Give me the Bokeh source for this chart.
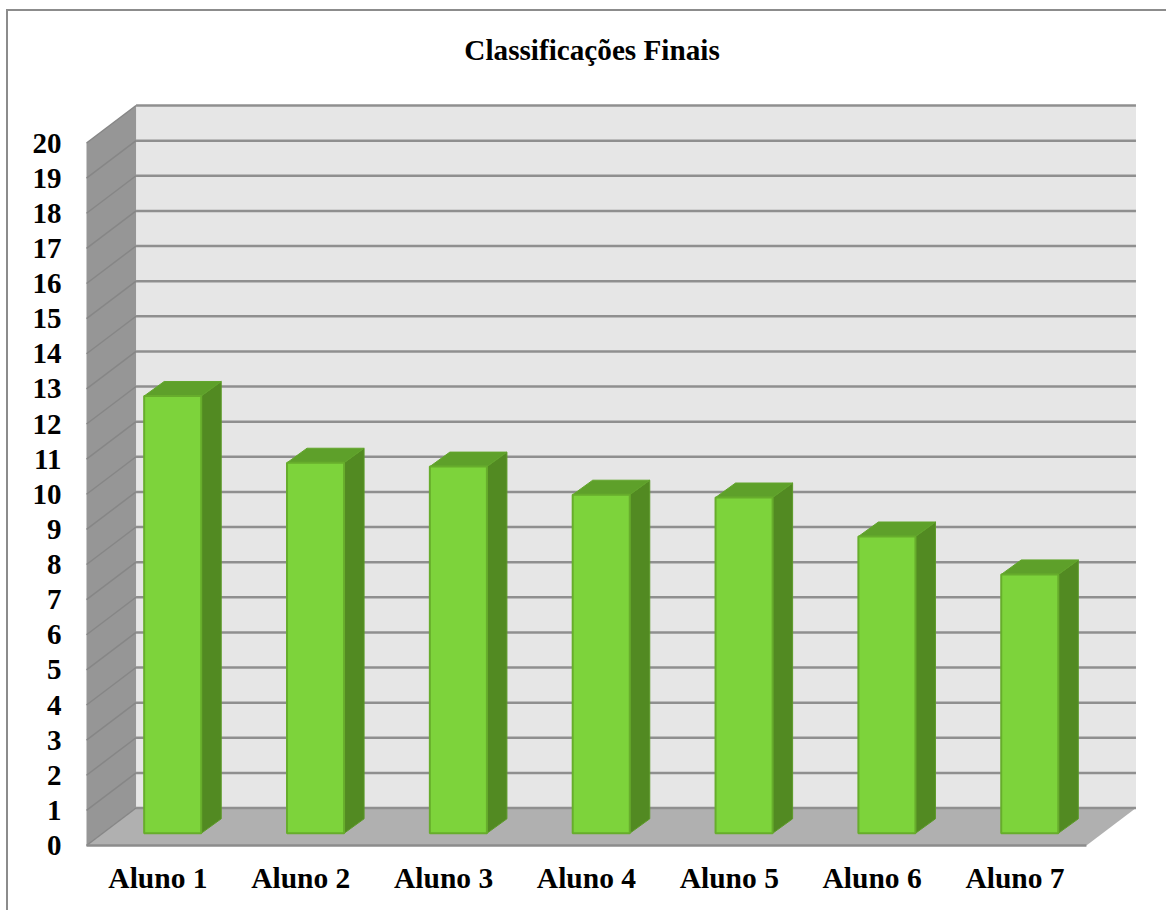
from bokeh.plotting import figure
from bokeh.models import FixedTicker, Label
from bokeh.embed import file_html
from bokeh.resources import INLINE

categories = ["Aluno 1", "Aluno 2", "Aluno 3", "Aluno 4", "Aluno 5", "Aluno 6", "Aluno 7"]
values = [12.45, 10.55, 10.44, 9.64, 9.56, 8.45, 7.37]
y_ticks = list(range(0, 21))
title_text = "Classificações Finais"

FONT = "Liberation Serif"
SLOT_PX = 142.71
UNIT_PX = 35.125
DX = 49.5 / SLOT_PX      # wall depth in x units
DY = 37.5 / UNIT_PX      # wall depth in y units
N = len(categories)
YMAX = y_ticks[-1]

W, H = 1160, 901
p = figure(width=W, height=H, output_backend="svg", toolbar_location=None,
           x_range=(-1 / SLOT_PX, 1051 / SLOT_PX), y_range=(-2 / UNIT_PX, 834 / UNIT_PX),
           min_border_left=77, min_border_right=30, min_border_top=0, min_border_bottom=65,
           background_fill_color="white", border_fill_color="white", outline_line_color=None,
           margin=(9, 0, 0, 6),
           styles={"border-left": "2px solid #8c8c8c", "border-top": "2px solid #8c8c8c"})
p.grid.visible = False

# chart title, in the free space above the walls
p.add_layout(Label(x=377.5 / SLOT_PX, y=796 / UNIT_PX, text=title_text,
                   text_align="left", text_baseline="middle",
                   text_font=FONT, text_font_size="29.2px", text_font_style="bold",
                   text_color="black"))

WALL_LINE = "#8f8f8f"
# back wall
p.patch([DX, N + DX, N + DX, DX], [DY, DY, YMAX + DY, YMAX + DY],
        fill_color="#e6e6e6", line_color=None)
# side wall
p.patch([0, DX, DX, 0], [0, DY, YMAX + DY, YMAX],
        fill_color="#969696", line_color=None)
# floor
p.patch([0, N, N + DX, DX], [0, 0, DY, DY],
        fill_color="#b0b0b0", line_color=None)
# grid lines on back wall and side wall
p.multi_line([[DX, N + DX] for _ in y_ticks], [[v + DY, v + DY] for v in y_ticks],
             line_color=WALL_LINE, line_width=2.5)
p.multi_line([[0, DX] for _ in y_ticks], [[v, v + DY] for v in y_ticks],
             line_color="#868686", line_width=1.5)
# floor front edge
p.line([0, N], [0, 0], line_color="#8c8c8c", line_width=2.5)

# bars
BAR_W = 57 / SLOT_PX
BAR_DX = 20 / SLOT_PX
BAR_DY = 14.5 / UNIT_PX
X_IN = 14.75 / SLOT_PX
Y_IN = 12.2 / UNIT_PX
X_PAD = (1 - BAR_W) / 2

for i, v in enumerate(values):
    l = i + X_PAD + X_IN
    r = l + BAR_W
    b = Y_IN
    t = Y_IN + v
    # side
    p.patch([r, r + BAR_DX, r + BAR_DX, r], [b, b + BAR_DY, t + BAR_DY, t],
            fill_color="#528a22", line_color="#5c9a28", line_width=1)
    # top
    p.patch([l, r, r + BAR_DX, l + BAR_DX], [t, t, t + BAR_DY, t + BAR_DY],
            fill_color="#5ea02a", line_color="#62a52c", line_width=1)
    # front
    p.quad(left=l, right=r, bottom=b, top=t,
           fill_color="#7dd33b", line_color="#67ad2c", line_width=2)

# axes
ya = p.yaxis[0]
ya.ticker = FixedTicker(ticks=y_ticks)
ya.axis_line_color = None
ya.major_tick_line_color = None
ya.minor_tick_line_color = None
ya.major_label_standoff = 18
ya.major_label_text_font = FONT
ya.major_label_text_font_style = "bold"
ya.major_label_text_font_size = "29px"
ya.major_label_text_color = "black"

xa = p.xaxis[0]
xa.ticker = FixedTicker(ticks=[i + 0.5 for i in range(N)])
xa.major_label_overrides = {i + 0.5: c for i, c in enumerate(categories)}
xa.axis_line_color = None
xa.major_tick_line_color = None
xa.minor_tick_line_color = None
xa.major_label_standoff = 8
xa.major_label_text_font = FONT
xa.major_label_text_font_style = "bold"
xa.major_label_text_font_size = "29.5px"
xa.major_label_text_color = "black"

open("out.html", "w").write(file_html(p, INLINE))
